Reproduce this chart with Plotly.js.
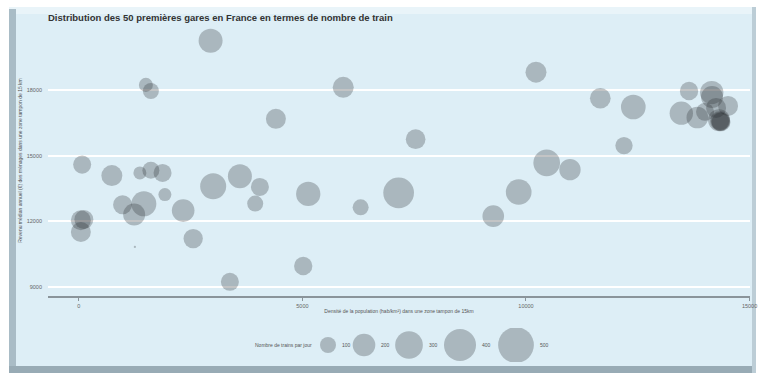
<!DOCTYPE html>
<html lang="fr">
<head>
<meta charset="utf-8">
<script src="https://cdn.plot.ly/plotly-3.0.1.min.js"></script>
<style>
  html, body { margin: 0; padding: 0; background: #ffffff; }
  #chart { width: 759px; height: 375px; }
</style>
</head>
<body>
<div id="chart"></div>
<script>
// Densité de population (hab/km²) autour de chaque gare
const stationDensity = [
  2946, 1499, 1611, 4407, 74, 738, 1365, 1611, 1872, 3004,
  3602, 4049, 3944, 1924, 978, 1454, 1237, 2333, 45, 45,
  2557, 1253, 3378, 5913, 7532, 5130, 6302, 7152, 9268, 5018,
  10224, 11662, 12400, 12192, 10463, 10984, 9837, 13647, 14154, 13474,
  13832, 14161, 14519, 14004, 14340, 14340, 14251, 14362, 112, 14318
];
// Revenu médian (€)
const stationIncome = [
  20250, 18230, 17950, 16680, 14590, 14090, 14210, 14330, 14210, 13600,
  14060, 13570, 12810, 13220, 12760, 12800, 12310, 12490, 12050, 11510,
  11210, 10830, 9240, 18120, 15750, 13250, 12640, 13300, 12240, 9960,
  18810, 17620, 17220, 15460, 14670, 14360, 13340, 17950, 17880, 16940,
  16740, 17680, 17270, 17000, 16580, 16580, 17180, 16540, 12080, 16620
];
// Nombre de trains par jour
const trainsPerDay = [
  225, 77, 100, 156, 127, 172, 66, 113, 127, 264,
  225, 127, 100, 66, 141, 244, 189, 200, 156, 156,
  146, 2, 127, 172, 151, 231, 100, 368, 183, 131,
  172, 167, 238, 117, 278, 178, 258, 131, 213, 213,
  183, 189, 156, 127, 156, 127, 156, 140, 140, 189
];

const legendTrains = [100, 200, 300, 400, 500];
const xTickValues = [0, 5000, 10000, 15000];
const yTickValues = [9000, 12000, 15000, 18000];

const titleText = "Distribution des 50 premières gares en France en termes de nombre de train";
const xTitleText = "Densité de la population (hab/km²) dans une zone tampon de 15km";
const yTitleText = "Revenu médian annuel (€) des ménages dans une zone tampon de 15 km";
const legendTitleText = "Nombre de trains par jour";

// ---- layout helpers (figure is drawn with zero margins, 759 x 375 px)
const W = 759, H = 375;
const px = v => v / W;
const py = v => 1 - v / H;

const bubbleColor = "rgba(40,42,46,0.40)";
const keyColor = "rgba(40,42,46,0.40)";
// area sizing: 100 trains -> 16 px circle, 500 trains -> ~36 px circle
const sizeRef = 200 / 256;
const diameterOf = v => Math.sqrt(2 * v / sizeRef);

// horizontal placement of the size-key circles (pixel coordinates on x2)
const keyX = [328, 364, 409, 460, 516];

const stations = {
  type: "scatter",
  mode: "markers",
  x: stationDensity,
  y: stationIncome,
  xaxis: "x",
  yaxis: "y",
  marker: {
    size: trainsPerDay,
    sizemode: "area",
    sizeref: sizeRef,
    sizemin: 1,
    color: bubbleColor,
    line: { width: 0 }
  },
  hoverinfo: "x+y+text",
  text: trainsPerDay.map(v => v + " trains/jour"),
  showlegend: false
};

const sizeKey = {
  type: "scatter",
  mode: "markers",
  x: keyX,
  y: legendTrains.map(() => 0.5),
  xaxis: "x2",
  yaxis: "y2",
  marker: {
    size: legendTrains,
    sizemode: "area",
    sizeref: sizeRef,
    color: keyColor,
    line: { width: 0 }
  },
  hoverinfo: "skip",
  showlegend: false
};

const keyLabels = legendTrains.map((v, i) => ({
  xref: "x2", yref: "y2",
  x: keyX[i] + diameterOf(v) / 2 + 4,
  y: 0.5,
  xanchor: "left", yanchor: "middle",
  text: String(v),
  showarrow: false,
  font: { family: "Liberation Sans, Arial, sans-serif", size: 5, color: "#555" }
}));

const frameShapes = [
  // outer bevel body
  { type: "rect", xref: "paper", yref: "paper", x0: px(9), x1: px(756), y0: py(373), y1: py(7),
    fillcolor: "#c9dae3", line: { width: 0 }, layer: "below" },
  // top light edge
  { type: "rect", xref: "paper", yref: "paper", x0: px(9), x1: px(756), y0: py(14), y1: py(7),
    fillcolor: "#e9f4f9", line: { width: 0 }, layer: "below" },
  // left dark edge
  { type: "rect", xref: "paper", yref: "paper", x0: px(9), x1: px(16), y0: py(373), y1: py(9),
    fillcolor: "#a9bcc6", line: { width: 0 }, layer: "below" },
  // bottom dark edge
  { type: "rect", xref: "paper", yref: "paper", x0: px(9), x1: px(756), y0: py(373), y1: py(366),
    fillcolor: "#98abb5", line: { width: 0 }, layer: "below" },
  // right edge
  { type: "rect", xref: "paper", yref: "paper", x0: px(752), x1: px(756), y0: py(373), y1: py(7),
    fillcolor: "#bccdd6", line: { width: 0 }, layer: "below" },
  // panel face
  { type: "rect", xref: "paper", yref: "paper", x0: px(16), x1: px(752), y0: py(366), y1: py(14),
    fillcolor: "#ddeef6", line: { width: 0 }, layer: "below" }
];

const tickFont = { family: "Liberation Sans, Arial, sans-serif", size: 5.5, color: "#666" };

const layout = {
  width: W,
  height: H,
  margin: { l: 0, r: 0, t: 0, b: 0, pad: 0 },
  paper_bgcolor: "#ffffff",
  plot_bgcolor: "rgba(0,0,0,0)",
  title: {
    text: "<b>" + titleText + "</b>",
    font: { family: "Liberation Sans, Arial, sans-serif", size: 9.5, color: "#333" },
    xref: "paper", yref: "paper",
    x: px(48), xanchor: "left",
    y: py(18), yanchor: "middle"
  },
  xaxis: {
    domain: [px(48), px(750)],
    range: [-690, 15010],
    tickvals: xTickValues,
    ticktext: xTickValues.map(String),
    tickfont: tickFont,
    ticks: "outside",
    ticklen: 3,
    tickwidth: 1,
    tickcolor: "#8a949a",
    showline: true,
    linecolor: "#8a949a",
    linewidth: 2,
    showgrid: false,
    zeroline: false,
    automargin: false,
    fixedrange: true,
    title: {
      text: xTitleText,
      font: { family: "Liberation Sans, Arial, sans-serif", size: 5, color: "#555" },
      standoff: 2
    }
  },
  yaxis: {
    domain: [py(296), py(25)],
    range: [8590, 20965],
    tickvals: yTickValues,
    ticktext: yTickValues.map(String),
    tickfont: tickFont,
    ticks: "",
    ticklabelstandoff: 5,
    showline: false,
    showgrid: true,
    gridcolor: "#ffffff",
    gridwidth: 2,
    zeroline: false,
    automargin: false,
    fixedrange: true,
    title: {
      text: yTitleText,
      font: { family: "Liberation Sans, Arial, sans-serif", size: 5, color: "#555" },
      standoff: 3
    }
  },
  xaxis2: {
    domain: [0, 1],
    range: [0, W],
    anchor: "y2",
    visible: false,
    fixedrange: true
  },
  yaxis2: {
    domain: [py(362), py(328)],
    range: [0, 1],
    anchor: "x2",
    visible: false,
    fixedrange: true
  },
  shapes: frameShapes,
  annotations: keyLabels.concat([{
    xref: "x2", yref: "y2",
    x: keyX[0] - diameterOf(legendTrains[0]) / 2 - 6,
    y: 0.5,
    xanchor: "right", yanchor: "middle",
    text: legendTitleText,
    showarrow: false,
    font: { family: "Liberation Sans, Arial, sans-serif", size: 5, color: "#555" }
  }]),
  showlegend: false
};

Plotly.newPlot("chart", [stations, sizeKey], layout, { displayModeBar: false, staticPlot: true });
</script>
</body>
</html>
